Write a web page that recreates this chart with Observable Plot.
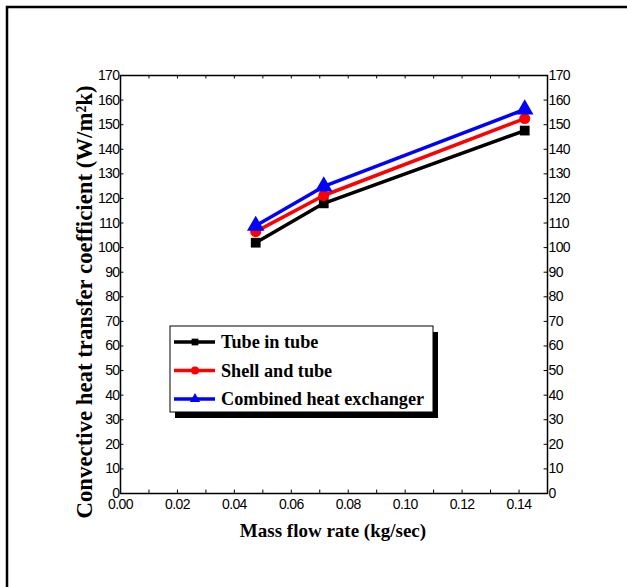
<!DOCTYPE html>
<html>
<head>
<meta charset="utf-8">
<script src="https://cdn.jsdelivr.net/npm/d3@7"></script>
<script src="https://cdn.jsdelivr.net/npm/@observablehq/plot@0.6"></script>
<style>
  html, body { margin: 0; padding: 0; background: #fff; }
  #chart svg { display: block; }
</style>
</head>
<body>
<div id="chart"></div>
<script>
// Data
const massFlow = [0.0475, 0.0714, 0.142];
const tubeInTube = [102, 118, 147.6];
const shellAndTube = [106.5, 121.2, 152.5];
const combined = [108.9, 124.9, 156.2];

const seriesNames = ["Tube in tube", "Shell and tube", "Combined heat exchanger"];
const seriesColors = ["#000000", "#ff0000", "#0000ff"];
const seriesSymbols = ["square", "circle", "triangle"];

const xTicks = [0, 0.02, 0.04, 0.06, 0.08, 0.10, 0.12, 0.14];
const xMinorTicks = [0, 0.01, 0.02, 0.03, 0.04, 0.05, 0.06, 0.07, 0.08, 0.09, 0.10, 0.11, 0.12, 0.13, 0.14];
const yTicks = [0, 10, 20, 30, 40, 50, 60, 70, 80, 90, 100, 110, 120, 130, 140, 150, 160, 170];

const xTitle = "Mass flow rate (kg/sec)";
const yTitle = "Convective heat transfer coefficient (W/m²k)";

const values = [tubeInTube, shellAndTube, combined];
const rows = [];
seriesNames.forEach((s, i) => massFlow.forEach((x, j) => rows.push({series: s, x, y: values[i][j]})));

const tickFont = "'Liberation Sans Narrow', 'Arial Narrow', 'Liberation Sans', sans-serif";

const marks = [
  Plot.frame({stroke: "#000", strokeWidth: 1.5}),
  // inward tick marks
  Plot.ruleX(xMinorTicks, {x: d => d, y1: 170, y2: 168.6, stroke: "#000", strokeWidth: 1}),
  Plot.ruleX(xMinorTicks, {x: d => d, y1: 0, y2: 1.4, stroke: "#000", strokeWidth: 1}),
  Plot.ruleY(yTicks, {y: d => d, x1: 0, x2: 0.0012, stroke: "#000", strokeWidth: 1}),
  Plot.ruleY(yTicks, {y: d => d, x1: 0.15, x2: 0.1488, stroke: "#000", strokeWidth: 1}),
  Plot.axisX(xTicks, {anchor: "bottom", tickSize: 0, tickPadding: 6, tickFormat: d => d.toFixed(2), fontSize: 14, fontFamily: tickFont, label: null}),
  Plot.axisY(yTicks, {anchor: "left", tickSize: 0, tickPadding: 1, fontSize: 14, fontFamily: tickFont, label: null}),
  Plot.axisY(yTicks, {anchor: "right", tickSize: 0, tickPadding: 1, fontSize: 14, fontFamily: tickFont, label: null})
];
seriesNames.forEach((s, i) => {
  const d = rows.filter(r => r.series === s);
  marks.push(Plot.line(d, {x: "x", y: "y", stroke: seriesColors[i], strokeWidth: 3.5}));
  marks.push(Plot.dot(d, {x: "x", y: "y", symbol: seriesSymbols[i], fill: seriesColors[i], stroke: "none", r: seriesSymbols[i] === "triangle" ? 6.5 : 5.5}));
});

const plot = Plot.plot({
  width: 627,
  height: 587,
  marginLeft: 120,
  marginRight: 80,
  marginTop: 75,
  marginBottom: 94,
  style: {background: "#fff", overflow: "visible"},
  x: {domain: [0, 0.15]},
  y: {domain: [0, 170]},
  marks
});
document.getElementById("chart").append(plot);

const svg = d3.select(plot);
// condensed look for tick labels
svg.selectAll("[aria-label='x-axis tick label'] text, [aria-label='y-axis tick label'] text")
  .attr("letter-spacing", "-0.6px");

// outer figure border
svg.insert("rect", ":first-child")
  .attr("x", 7).attr("y", 7).attr("width", 700).attr("height", 700)
  .attr("fill", "none").attr("stroke", "#000").attr("stroke-width", 2.5);

const serif = "'Liberation Serif', 'Times New Roman', serif";
// axis titles
svg.append("text")
  .attr("x", 333).attr("y", 537)
  .attr("text-anchor", "middle")
  .attr("font-family", serif)
  .attr("font-weight", "bold").attr("font-size", 19)
  .text(xTitle);
svg.append("text")
  .attr("transform", "translate(92,302) rotate(-90)")
  .attr("text-anchor", "middle")
  .attr("font-family", serif)
  .attr("font-weight", "bold").attr("font-size", 22.8)
  .text(yTitle);

// legend
const lg = svg.append("g").attr("text-anchor", "start");
lg.append("rect").attr("x", 175).attr("y", 332).attr("width", 263).attr("height", 86).attr("fill", "#000");
lg.append("rect").attr("x", 170).attr("y", 326).attr("width", 263).attr("height", 86).attr("fill", "#fff").attr("stroke", "#000").attr("stroke-width", 1);
seriesNames.forEach((s, i) => {
  const cy = 342 + i * 28.5;
  lg.append("line").attr("x1", 174).attr("x2", 215).attr("y1", cy).attr("y2", cy)
    .attr("stroke", seriesColors[i]).attr("stroke-width", 3.5);
  const t = [d3.symbolSquare, d3.symbolCircle, d3.symbolTriangle][i];
  lg.append("path").attr("d", d3.symbol().type(t).size(i === 1 ? 50 : 45)())
    .attr("transform", `translate(195,${cy})`).attr("fill", seriesColors[i]);
  lg.append("text").attr("x", 221).attr("y", cy + 6)
    .attr("text-anchor", "start")
    .attr("font-family", serif)
    .attr("font-weight", "bold").attr("font-size", 18.2)
    .text(s);
});
</script>
</body>
</html>
